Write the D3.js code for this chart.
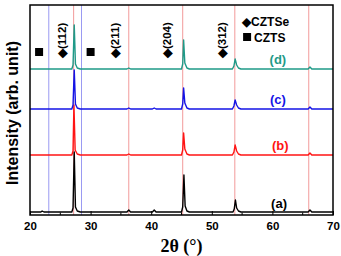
<!DOCTYPE html>
<html>
<head>
<meta charset="utf-8">
<script src="https://cdn.jsdelivr.net/npm/d3@7"></script>
<style>
  body { margin: 0; background: #fff; }
  text { font-family: Arial, "Liberation Sans", sans-serif; }
</style>
</head>
<body>
<div id="chart"></div>
<script>
// XRD patterns, [2theta, intensity] (arb. units)
var patternA = [[20,0],[21.8,0],[22,1],[22.3,0],[26.9,0],[27.1,4],[27.3,60],[27.5,5],[27.8,1],[28.3,0],
  [36,0],[36.3,2],[36.6,0],[40.2,0],[40.5,2],[40.8,0],[45,0],[45.2,5],[45.4,37],[45.6,6],[45.9,1],[46.3,0],
  [53.5,0],[53.7,3],[53.9,12],[54.1,4],[54.4,1],[54.8,0],[65.9,0],[66.2,2],[66.5,0],[70,0]];
var patternB = [[20,0],[26.9,0],[27.1,4],[27.25,50],[27.45,5],[27.8,1],[28.3,0],[36,0],[36.3,1],[36.6,0],
  [45,0],[45.2,5],[45.35,22],[45.55,6],[45.9,1],[46.3,0],[53.4,0],[53.65,3],[53.85,10],[54.1,4],[54.4,1],[54.8,0],
  [65.9,0],[66.2,2],[66.5,0],[70,0]];
var patternC = [[20,0],[26.9,0],[27.1,4],[27.3,39],[27.5,5],[27.8,1],[28.3,0],[36,0],[36.3,1],[36.6,0],
  [40.2,0],[40.5,1],[40.8,0],[45,0],[45.2,5],[45.35,21],[45.55,6],[45.9,1],[46.3,0],
  [53.4,0],[53.65,3],[53.85,9],[54.1,4],[54.4,1],[54.8,0],[65.9,0],[66.2,2],[66.5,0],[70,0]];
var patternD = [[20,0],[26.9,0],[27.1,4],[27.3,44],[27.5,5],[27.8,1],[28.3,0],[36,0],[36.3,1],[36.6,0],
  [45,0],[45.2,5],[45.35,29],[45.55,6],[45.9,1],[46.3,0],[53.4,0],[53.65,3],[53.85,10],[54.1,4],[54.4,1],[54.8,0],
  [65.9,0],[66.2,2],[66.5,0],[70,0]];

var sampleNames = ["(a)", "(b)", "(c)", "(d)"];
var sampleColors = ["#000000", "#ff1414", "#1414e6", "#1f9a88"];
var sampleOffsets = [3, 60, 106, 146];
var patterns = [patternA, patternB, patternC, patternD];

// reference positions (2theta)
var cztseLines = [27.2, 36.3, 45.2, 53.8, 66.0];
var cztsLines = [23.1, 28.5];

// peak labels
var cztseLabels = [[25.3, "(112)"], [34.0, "(211)"], [42.6, "(204)"], [51.7, "(312)"]];
var cztsMarks = [21.5, 30.0];

var xTicks = [20, 30, 40, 50, 60, 70];
var xMinor = [25, 35, 45, 55, 65];

var svgWidth = 341, svgHeight = 256;
var margin = {top: 5, right: 8, bottom: 41, left: 30};
var width = svgWidth - margin.left - margin.right;
var height = svgHeight - margin.top - margin.bottom;

var svg = d3.select("#chart").append("svg")
  .attr("width", svgWidth)
  .attr("height", svgHeight);

var g = svg.append("g")
  .attr("transform", `translate(${margin.left},${margin.top})`);

var x = d3.scaleLinear().domain([20, 70]).range([0, width]);
var y = d3.scaleLinear().domain([0, 210]).range([height, 0]);

// reference lines
g.selectAll(".ref-red").data(cztseLines).enter().append("line")
  .attr("x1", d => x(d)).attr("x2", d => x(d))
  .attr("y1", 0).attr("y2", height)
  .attr("stroke", "#f29a9a").attr("stroke-width", 1);
g.selectAll(".ref-blue").data(cztsLines).enter().append("line")
  .attr("x1", d => x(d)).attr("x2", d => x(d))
  .attr("y1", 0).attr("y2", height)
  .attr("stroke", "#9a9af2").attr("stroke-width", 1);

// patterns
var line = d3.line()
  .x(d => x(d[0]))
  .y(d => y(d[1]));

patterns.forEach(function(p, i) {
  g.append("path")
    .datum(p.map(d => [d[0], d[1] + sampleOffsets[i]]))
    .attr("d", line)
    .attr("fill", "none")
    .attr("stroke", sampleColors[i])
    .attr("stroke-width", 1.4)
    .attr("stroke-linejoin", "round");
});

// sample labels
var labelPos = [[61.1, 7], [61.3, 65], [60.9, 111], [60.9, 151]];
g.selectAll(".slabel").data(sampleNames).enter().append("text")
  .attr("x", (d, i) => x(labelPos[i][0]))
  .attr("y", (d, i) => y(labelPos[i][1]))
  .attr("text-anchor", "middle")
  .attr("font-size", 13)
  .attr("font-weight", "bold")
  .attr("fill", (d, i) => sampleColors[i])
  .text(d => d);

// peak annotations
g.selectAll(".plabel").data(cztseLabels).enter().append("text")
  .attr("transform", d => `translate(${x(d[0]) + 4},${y(157)}) rotate(-90)`)
  .attr("font-size", 11.5)
  .attr("font-weight", "bold")
  .text(d => "\u25C6" + d[1]);

g.selectAll(".smark").data(cztsMarks).enter().append("rect")
  .attr("x", d => x(d) - 4)
  .attr("y", y(163) - 4)
  .attr("width", 8).attr("height", 8)
  .attr("fill", "#000");

// legend
var legend = g.append("g").attr("transform", `translate(${x(55.0)},${y(189)})`);
legend.append("text").attr("x", 0).attr("y", 0)
  .attr("font-size", 12).attr("font-weight", "bold")
  .text("\u25C6CZTSe");
legend.append("rect").attr("x", 1).attr("y", 7).attr("width", 8).attr("height", 8).attr("fill", "#000");
legend.append("text").attr("x", 12).attr("y", 16)
  .attr("font-size", 12).attr("font-weight", "bold")
  .text("CZTS");

// axes
g.append("g")
  .attr("transform", `translate(0,${height})`)
  .call(d3.axisBottom(x).tickValues(xTicks).tickSizeInner(-4).tickSizeOuter(0).tickPadding(7))
  .call(a => a.select(".domain").remove())
  .call(a => a.selectAll("text").attr("font-size", 11.5).attr("font-weight", "bold")
    .attr("font-family", "Arial, 'Liberation Sans', sans-serif").attr("fill", "#000"));

g.append("g")
  .attr("transform", `translate(0,${height})`)
  .selectAll("line").data(xMinor).enter().append("line")
  .attr("x1", d => x(d)).attr("x2", d => x(d))
  .attr("y1", 0).attr("y2", -2.5)
  .attr("stroke", "#000");

g.append("rect")
  .attr("width", width).attr("height", height)
  .attr("fill", "none").attr("stroke", "#000").attr("stroke-width", 1.5);

// axis titles
svg.append("text")
  .attr("transform", `translate(18,${margin.top + height / 2 + 3}) rotate(-90)`)
  .attr("text-anchor", "middle")
  .attr("font-size", 16)
  .attr("font-weight", "bold")
  .text("Intensity (arb. unit)");

svg.append("text")
  .attr("x", margin.left + width / 2)
  .attr("y", 252)
  .attr("text-anchor", "middle")
  .attr("font-size", 18)
  .attr("font-weight", "bold")
  .style("font-family", "'Liberation Serif', 'Times New Roman', serif")
  .text("2\u03B8 (\u00B0)");
</script>
</body>
</html>
